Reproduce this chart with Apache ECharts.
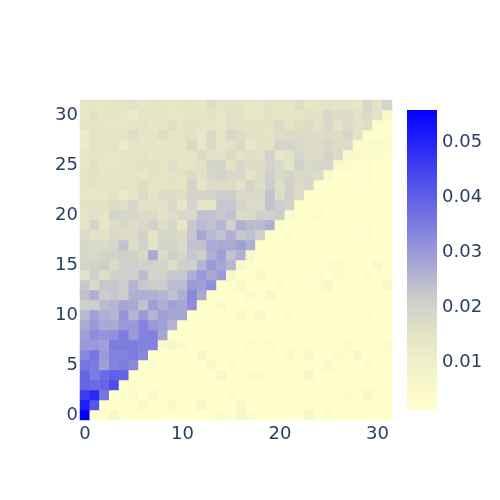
<!DOCTYPE html>
<html><head><meta charset="utf-8">
<script src="https://cdn.jsdelivr.net/npm/echarts@6/dist/echarts.min.js"></script>
<style>html,body{margin:0;padding:0;background:#fff}#c{width:500px;height:500px}</style>
</head><body><div id="c"></div>
<script>
const row0=[.0558,.0015,.0015,.0065,.0015,.0015,.0015,.0015,.0015,.0015,.0015,.0015,.0015,.0015,.004,.0015,.0065,.004,.0015,.0015,.0015,.0015,.0015,.006,.0015,.004,.0015,.0015,.0015,.0015,.0015,.0015];
const row1=[.051,.0415,.0015,.0015,.0015,.0015,.005,.0015,.0015,.005,.0015,.0015,.006,.0015,.0015,.0015,.006,.0015,.0015,.0015,.0015,.0015,.0015,.0015,.0015,.0015,.0015,.0015,.0015,.0015,.0015,.0015];
const row2=[.046,.049,.036,.0015,.0015,.005,.0015,.005,.0015,.0015,.0015,.0015,.0015,.0015,.0015,.004,.0015,.0015,.0015,.0015,.0015,.0015,.0015,.0015,.0015,.0015,.0015,.004,.0015,.006,.0015,.0015];
const row3=[.039,.038,.039,.043,.0015,.003,.0015,.0015,.0015,.0015,.0015,.0015,.0015,.0015,.0015,.0015,.0015,.0015,.0015,.0015,.0015,.0015,.0015,.0015,.0015,.0015,.0015,.0015,.0015,.0015,.0015,.0015];
const row4=[.039,.035,.038,.040,.039,.0015,.003,.0015,.0015,.0015,.003,.0015,.0015,.0015,.006,.0015,.0015,.004,.004,.0015,.0015,.0015,.0015,.0065,.0015,.0015,.0015,.0015,.0015,.0015,.0015,.0015];
const row5=[.036,.035,.029,.034,.035,.033,.0015,.004,.0015,.0015,.0015,.0015,.0015,.005,.0015,.004,.0015,.0015,.0015,.0015,.0015,.0015,.0015,.0015,.003,.005,.0015,.0015,.0015,.004,.0015,.0015];
const row6=[.033,.036,.030,.034,.034,.035,.033,.0015,.0015,.0015,.0015,.0015,.006,.0015,.0015,.0015,.0015,.0015,.0015,.0015,.0015,.005,.0015,.005,.0015,.0015,.004,.0015,.0065,.0015,.0015,.0015];
const row7=[.030,.030,.029,.035,.035,.035,.034,.034,.005,.006,.004,.0015,.0015,.0015,.0015,.0015,.0015,.004,.0015,.004,.0015,.0015,.0015,.0015,.0015,.0015,.0015,.004,.0015,.0015,.0015,.004];
const row8=[.029,.032,.031,.032,.035,.030,.034,.034,.028,.0015,.0015,.0015,.0015,.0015,.0015,.0015,.0015,.0015,.0015,.0015,.0015,.0015,.0015,.0015,.0015,.0015,.0015,.0015,.0015,.0015,.0015,.0015];
const row9=[.0275,.030,.0275,.0275,.030,.030,.034,.030,.029,.0255,.0015,.0015,.0015,.0015,.0015,.0015,.0015,.0015,.0015,.0015,.0015,.0015,.0015,.0015,.0015,.0015,.0015,.0015,.0015,.0015,.0015,.0015];
const row10=[.0245,.029,.0265,.0255,.031,.0255,.030,.0255,.029,.028,.028,.0015,.0015,.0015,.0015,.0015,.005,.0015,.0065,.0015,.0015,.004,.0015,.0015,.0015,.0015,.0015,.0015,.0015,.003,.0015,.0015];
const row11=[.0205,.021,.0245,.0255,.028,.0275,.0235,.029,.0265,.029,.028,.032,.0015,.0015,.005,.0015,.0015,.0015,.0015,.0015,.0015,.0015,.0015,.0015,.0015,.0015,.0015,.0015,.0015,.0015,.0015,.0015];
const row12=[.0235,.0265,.0215,.0225,.0215,.0265,.0265,.0265,.0255,.0235,.0265,.033,.0275,.0015,.0015,.0015,.0015,.005,.0015,.006,.0015,.0015,.0015,.0015,.0015,.0015,.0015,.0015,.0015,.0015,.0015,.0015];
const row13=[.0225,.018,.0225,.0225,.0215,.0255,.0225,.0215,.0215,.0245,.0245,.030,.029,.032,.0015,.003,.0065,.0015,.0015,.0015,.004,.0015,.0015,.0015,.004,.006,.0015,.0015,.0015,.0015,.0015,.006];
const row14=[.0155,.021,.0165,.020,.021,.020,.0245,.0195,.020,.0225,.0225,.0265,.030,.0275,.030,.006,.0015,.0015,.005,.0015,.0015,.0015,.0015,.003,.003,.0015,.004,.0015,.0015,.004,.0015,.0015];
const row15=[.0195,.020,.0215,.0175,.0205,.021,.020,.020,.0195,.0165,.0205,.020,.0255,.030,.028,.0255,.006,.004,.0015,.0015,.0015,.0015,.0015,.0015,.0015,.004,.004,.0015,.0015,.0015,.005,.0015];
const row16=[.019,.018,.020,.020,.0205,.020,.018,.0275,.0175,.0205,.019,.0225,.0205,.0265,.029,.0235,.0265,.006,.0015,.0015,.0015,.0015,.0015,.0015,.0015,.0015,.0015,.0015,.0015,.0015,.0015,.0015];
const row17=[.019,.018,.018,.019,.0235,.0165,.020,.0155,.0195,.0195,.0175,.0235,.0235,.0275,.0275,.0275,.029,.0265,.0015,.0015,.0015,.0015,.0015,.0015,.0015,.0015,.0015,.0015,.0015,.0015,.0015,.0015];
const row18=[.0175,.0155,.0155,.018,.0165,.0175,.020,.0145,.019,.019,.0175,.0225,.028,.0245,.0235,.0265,.0225,.0235,.021,.0015,.0015,.004,.0015,.0015,.0015,.0015,.0015,.0015,.0015,.003,.0015,.0015];
const row19=[.0145,.0195,.0135,.0165,.018,.0165,.018,.020,.0165,.019,.0135,.0225,.0245,.0235,.0255,.020,.0265,.0245,.0245,.0265,.0015,.0015,.0015,.0015,.0015,.0015,.0015,.0015,.003,.003,.0015,.0015];
const row20=[.0145,.0155,.0145,.0195,.019,.019,.0175,.0175,.0155,.0165,.018,.018,.0235,.0235,.0225,.0235,.0175,.0175,.021,.021,.0215,.004,.0015,.0015,.004,.0015,.0015,.0015,.0015,.0015,.0015,.0015];
const row21=[.0155,.0155,.0155,.0165,.0165,.019,.0155,.0155,.0155,.018,.0135,.0195,.0145,.0145,.0225,.0225,.0195,.0175,.0175,.0235,.0215,.0195,.0015,.0015,.0015,.0015,.0015,.0015,.0015,.0015,.0015,.0015];
const row22=[.0135,.0135,.0135,.0155,.012,.0145,.0175,.0145,.0165,.0165,.0165,.0195,.0195,.0195,.0215,.0215,.018,.018,.018,.0235,.0165,.021,.0175,.0015,.0015,.0015,.0015,.0015,.0015,.0015,.0015,.0015];
const row23=[.0145,.0155,.0145,.0145,.0145,.0145,.0165,.0145,.0145,.0145,.0145,.020,.0145,.0175,.0175,.0175,.0155,.0195,.0165,.0215,.0165,.020,.0175,.019,.003,.0015,.0015,.003,.003,.003,.0015,.0015];
const row24=[.0145,.0155,.0145,.0145,.0145,.0145,.0135,.0155,.0145,.0155,.0155,.0175,.0155,.019,.020,.018,.018,.0145,.0175,.021,.018,.0195,.018,.018,.0175,.005,.0015,.0015,.0015,.004,.0015,.0015];
const row25=[.0135,.0155,.0135,.0135,.0145,.0145,.0155,.0155,.0145,.0165,.0145,.0145,.0155,.0195,.0195,.0155,.018,.0165,.0175,.0195,.018,.0145,.0205,.018,.019,.019,.005,.004,.003,.003,.0015,.0015];
const row26=[.0135,.0145,.0135,.0135,.0145,.0145,.0145,.0135,.0145,.0145,.0145,.0145,.0175,.0155,.0155,.0175,.0155,.0165,.0155,.020,.0135,.0155,.019,.0175,.0175,.0195,.0175,.005,.005,.004,.004,.003];
const row27=[.012,.0155,.0145,.0145,.011,.0145,.0145,.0145,.0135,.0135,.0145,.018,.0135,.018,.0145,.0155,.018,.0135,.0155,.0155,.0195,.0195,.018,.0175,.0175,.019,.0175,.0175,.004,.005,.005,.004];
const row28=[.012,.0145,.0145,.0145,.0145,.0165,.0145,.0145,.0165,.0145,.0145,.0155,.0135,.018,.0145,.019,.0165,.0155,.0155,.0145,.0165,.0175,.0175,.0165,.0165,.0175,.0165,.019,.0155,.003,.003,.003];
const row29=[.0145,.0145,.0135,.0135,.0135,.0145,.0145,.0135,.0145,.0165,.0145,.0155,.0145,.0145,.0135,.0155,.0155,.0155,.0155,.0155,.0175,.0145,.0165,.0165,.0155,.018,.0145,.0175,.0155,.0165,.003,.003];
const row30=[.0135,.0155,.0135,.0145,.0135,.012,.0145,.0145,.0145,.0135,.0135,.0145,.0145,.0155,.0135,.0155,.0155,.0135,.0135,.0155,.0145,.0145,.0145,.0155,.0155,.019,.0175,.0175,.0155,.0175,.0155,.006];
const row31=[.0135,.0135,.0135,.0145,.0145,.0155,.0135,.0145,.0145,.0135,.0145,.0145,.0135,.0165,.0145,.0155,.0145,.0135,.0135,.0155,.0145,.0145,.0165,.0135,.0145,.0155,.0145,.0145,.0135,.019,.0155,.0195];
const rows=[row0,row1,row2,row3,row4,row5,row6,row7,row8,row9,row10,row11,row12,row13,row14,row15,row16,row17,row18,row19,row20,row21,row22,row23,row24,row25,row26,row27,row28,row29,row30,row31];
const categories=rows.map((r,i)=>String(i));
const colorbarTicks=[.01,.02,.03,.04,.05];
const colorMin=.0013, colorMax=.0558;
const stops=['#ffffcc','#f4f4cb','#e4e4c6','#cccccc','#a3a3d6','#7a7ae1','#5252eb','#2929f5','#0000ff'];
const cells=[];
rows.forEach((r,y)=>r.forEach((v,x)=>cells.push([x,y,v])));
const font='"DejaVu Sans"', ink='#2a3f5f', size=18;
const chart=echarts.init(document.getElementById('c'),null,{renderer:'canvas'});
chart.setOption({
  backgroundColor:'#fff',animation:false,
  grid:[{left:80,top:100,width:312,height:320},{left:407,top:110,width:30,height:300}],
  xAxis:[
    {gridIndex:0,type:'category',data:categories,axisLine:{show:false},axisTick:{show:false},splitLine:{show:false},splitArea:{show:false},
     axisLabel:{interval:9,color:ink,fontFamily:font,fontSize:size,margin:5}},
    {gridIndex:1,type:'value',min:0,max:1,show:false}
  ],
  yAxis:[
    {gridIndex:0,type:'category',data:categories,axisLine:{show:false},axisTick:{show:false},splitLine:{show:false},splitArea:{show:false},
     axisLabel:{interval:4,color:ink,fontFamily:font,fontSize:size,margin:2}},
    {gridIndex:1,type:'value',position:'right',min:colorMin,max:colorMax,axisLine:{show:false},axisTick:{show:false},splitLine:{show:false},
     axisLabel:{customValues:colorbarTicks,formatter:v=>v.toFixed(2),color:ink,fontFamily:font,fontSize:size,margin:5}}
  ],
  visualMap:{type:'continuous',show:false,seriesIndex:0,min:colorMin,max:colorMax,inRange:{color:stops}},
  series:[
    {type:'heatmap',xAxisIndex:0,yAxisIndex:0,data:cells,progressive:0,emphasis:{disabled:true},itemStyle:{borderWidth:0}},
    {type:'custom',xAxisIndex:1,yAxisIndex:1,silent:true,data:[[0,colorMin,1,colorMax]],encode:{x:[0,2],y:[1,3]},
     renderItem:(params,api)=>{
       const a=api.coord([api.value(0),api.value(1)]),b=api.coord([api.value(2),api.value(3)]);
       return {type:'rect',shape:{x:a[0],y:b[1],width:b[0]-a[0],height:a[1]-b[1]},
         style:{fill:new echarts.graphic.LinearGradient(0,1,0,0,stops.map((c,i)=>({offset:i/(stops.length-1),color:c})))}};
     }}
  ]
});
</script></body></html>
